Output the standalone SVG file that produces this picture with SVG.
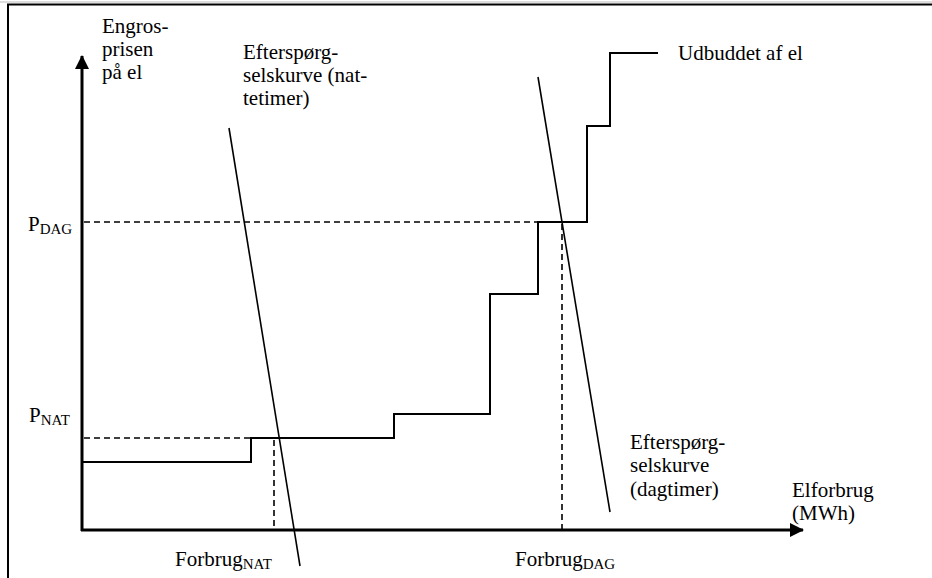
<svg xmlns="http://www.w3.org/2000/svg" width="932" height="578" viewBox="0 0 932 578">
<style>
text{font-family:"Liberation Serif","Times New Roman",serif;font-size:21px;fill:#000}
.sub{font-size:15px}
.axis{stroke:#000;stroke-width:3;fill:none}
.step{stroke:#000;stroke-width:2;fill:none}
.dem{stroke:#000;stroke-width:1.6;fill:none}
.dash{stroke:#000;stroke-width:1.6;fill:none;stroke-dasharray:6 4}
.frame{stroke:#000;stroke-width:2;fill:none}
</style>
<defs>
<marker id="arr" viewBox="0 0 14 14" refX="13" refY="7" markerWidth="14" markerHeight="14" markerUnits="userSpaceOnUse" orient="auto">
<path d="M0,0 L14,7 L0,14 Z" fill="#000"/>
</marker>
</defs>
<rect x="0" y="0" width="932" height="578" fill="#fff"/>
<line x1="0" y1="2" x2="932" y2="2" stroke="#bbb" stroke-width="1"/>
<path class="frame" d="M8,578 V4.5 H932"/>
<g id="connectors">
<path id="y-axis" class="axis" d="M82,531 V56" marker-end="url(#arr)"/>
<path id="x-axis" class="axis" d="M81,530 H803" marker-end="url(#arr)"/>
<path id="p-dag-dash" class="dash" d="M84,222 H538"/>
<path id="p-nat-dash" class="dash" d="M84,438 H251"/>
<path id="forbrug-nat-dash" class="dash" d="M274,440 V529"/>
<path id="forbrug-dag-dash" class="dash" d="M562,224 V529"/>
</g>
<g id="supply-curve">
<path class="step" d="M83,462 H251 V438 H394 V414 H490 V294 H538 V222 H587 V126 H610 V53 H658"/>
</g>
<g id="demand-night">
<line class="dem" x1="229" y1="128" x2="300" y2="566"/>
</g>
<g id="demand-day">
<line class="dem" x1="538" y1="77" x2="610" y2="512"/>
</g>
<g id="label-y">
<text x="102" y="33">Engros-</text>
<text x="102" y="56">prisen</text>
<text x="102" y="79">på el</text>
</g>
<g id="label-demand-night">
<text x="243" y="59">Efterspørg-</text>
<text x="243" y="82">selskurve (nat-</text>
<text x="243" y="105">tetimer)</text>
</g>
<g id="label-supply">
<text x="678" y="60">Udbuddet af el</text>
</g>
<g id="label-demand-day">
<text x="630" y="449">Efterspørg-</text>
<text x="630" y="472">selskurve</text>
<text x="630" y="496">(dagtimer)</text>
</g>
<g id="label-x">
<text x="792" y="497">Elforbrug</text>
<text x="792" y="520">(MWh)</text>
</g>
<g id="label-pdag">
<text x="28" y="231">P<tspan class="sub" dy="3">DAG</tspan></text>
</g>
<g id="label-pnat">
<text x="29" y="422">P<tspan class="sub" dy="3">NAT</tspan></text>
</g>
<g id="label-forbrug-nat">
<text x="175" y="566">Forbrug<tspan class="sub" dy="3">NAT</tspan></text>
</g>
<g id="label-forbrug-dag">
<text x="515" y="566">Forbrug<tspan class="sub" dy="3">DAG</tspan></text>
</g>
</svg>
